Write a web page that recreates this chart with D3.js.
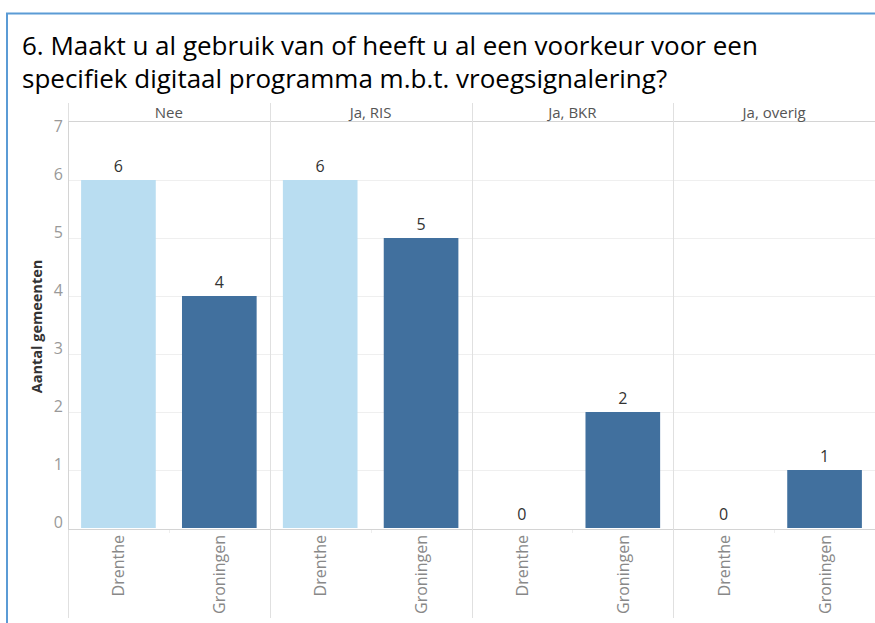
<!DOCTYPE html>
<html lang="en">
<head>
<meta charset="UTF-8">
<title>Vroegsignalering</title>
<script src="https://d3js.org/d3.v7.min.js"></script>
<style>
  body { margin: 0; background: #fff; }
  svg { display: block; font-family: "Open Sans", "Noto Sans", sans-serif; }
</style>
</head>
<body>
<div id="chart"></div>
<script>
// data
const answers = ["Nee", "Ja, RIS", "Ja, BKR", "Ja, overig"];
const provinces = ["Drenthe", "Groningen"];
const drenthe = [6, 6, 0, 0];
const groningen = [4, 5, 2, 1];
const yTicks = [0, 1, 2, 3, 4, 5, 6, 7];

const width = 875, height = 623;
const plotLeft = 68, plotRight = 875, plotTop = 121, base = 528;

const svg = d3.select("#chart").append("svg")
    .attr("width", width)
    .attr("height", height);

// frame (dashboard border)
svg.append("line").attr("x1", 6).attr("x2", width).attr("y1", 13.5).attr("y2", 13.5)
    .attr("stroke", "#5b9bd5").attr("stroke-width", 2);
svg.append("line").attr("x1", 7).attr("x2", 7).attr("y1", 13).attr("y2", height)
    .attr("stroke", "#5b9bd5").attr("stroke-width", 2);

// title
const title = svg.append("text")
    .style("font-size", "26px")
    .attr("fill", "#000");
title.append("tspan").attr("x", 22).attr("y", 55)
    .text("6. Maakt u al gebruik van of heeft u al een voorkeur voor een");
title.append("tspan").attr("x", 22).attr("y", 88)
    .text("specifiek digitaal programma m.b.t. vroegsignalering?");

// scales
const panel = d3.scaleBand().domain(answers).range([plotLeft, plotRight]);
const x = d3.scaleBand().domain(provinces).range([0, panel.bandwidth()])
    .paddingInner(0.26).paddingOuter(0.13);
const y = d3.scaleLinear().domain([0, 7]).range([base, plotTop + 1]);
const color = d3.scaleOrdinal().domain(provinces).range(["#b9ddf1", "#41709e"]);

// gridlines
svg.append("g").selectAll("line").data(yTicks.slice(1, 7)).join("line")
    .attr("x1", plotLeft).attr("x2", plotRight)
    .attr("y1", d => Math.round(y(d)) + 0.5).attr("y2", d => Math.round(y(d)) + 0.5)
    .attr("stroke", "#efefef");

// header line and baseline
svg.append("line").attr("x1", plotLeft).attr("x2", plotRight).attr("y1", plotTop + 0.5).attr("y2", plotTop + 0.5)
    .attr("stroke", "#d4d4d4");
svg.append("line").attr("x1", plotLeft).attr("x2", plotRight).attr("y1", base + 1.5).attr("y2", base + 1.5)
    .attr("stroke", "#d4d4d4");

// panel separators
svg.append("g").selectAll("line").data(answers).join("line")
    .attr("x1", d => Math.round(panel(d)) + 0.5).attr("x2", d => Math.round(panel(d)) + 0.5)
    .attr("y1", 103).attr("y2", 618)
    .attr("stroke", "#e0e0e0");

// small tick between provinces under baseline
svg.append("g").selectAll("line").data(answers).join("line")
    .attr("x1", d => Math.round(panel(d) + panel.bandwidth() / 2) + 0.5)
    .attr("x2", d => Math.round(panel(d) + panel.bandwidth() / 2) + 0.5)
    .attr("y1", base + 2).attr("y2", base + 5)
    .attr("stroke", "#eeeeee");

// panel headers
svg.append("g").selectAll("text").data(answers).join("text")
    .attr("x", d => panel(d) + panel.bandwidth() / 2)
    .attr("y", 118)
    .attr("text-anchor", "middle")
    .style("font-size", "15px")
    .attr("fill", "#555")
    .text(d => d);

// y axis
const yAxis = svg.append("g")
    .attr("transform", `translate(${plotLeft - 5},0)`)
    .call(d3.axisLeft(y).tickValues(yTicks).tickFormat(d3.format("d")).tickSize(0).tickPadding(0));
yAxis.select(".domain").remove();
yAxis.selectAll("text")
    .style("font-size", "16px")
    .style("font-family", "'Open Sans', sans-serif")
    .attr("fill", "#999")
    .attr("dy", d => d === 7 ? "0.6em" : "-0.05em");   // top label sits below the header line

svg.append("line").attr("x1", plotLeft + 0.5).attr("x2", plotLeft + 0.5).attr("y1", plotTop).attr("y2", base + 2)
    .attr("stroke", "#d4d4d4");

svg.append("text")
    .attr("transform", `translate(42,${(plotTop + base) / 2 + 2}) rotate(-90)`)
    .attr("text-anchor", "middle")
    .style("font-size", "14.5px")
    .attr("font-weight", "bold")
    .attr("fill", "#333")
    .text("Aantal gemeenten");

// bars
const rows = [];
answers.forEach((a, i) => {
  rows.push({answer: a, province: "Drenthe", value: drenthe[i]});
  rows.push({answer: a, province: "Groningen", value: groningen[i]});
});

const g = svg.append("g");
g.selectAll("rect").data(rows).join("rect")
    .attr("x", d => panel(d.answer) + x(d.province))
    .attr("width", x.bandwidth())
    .attr("y", d => y(d.value))
    .attr("height", d => y(0) - y(d.value))
    .attr("fill", d => color(d.province));

g.selectAll("text.val").data(rows).join("text")
    .attr("class", "val")
    .attr("x", d => panel(d.answer) + x(d.province) + x.bandwidth() / 2)
    .attr("y", d => y(d.value) - 8)
    .attr("text-anchor", "middle")
    .style("font-size", "16px")
    .attr("fill", "#333")
    .text(d => d.value);

// x labels
g.selectAll("text.lab").data(rows).join("text")
    .attr("class", "lab")
    .attr("transform", d => `translate(${panel(d.answer) + x(d.province) + x.bandwidth() / 2 + 6},${base + 7}) rotate(-90)`)
    .attr("text-anchor", "end")
    .style("font-size", "16px")
    .attr("fill", "#888")
    .text(d => d.province);
</script>
</body>
</html>
